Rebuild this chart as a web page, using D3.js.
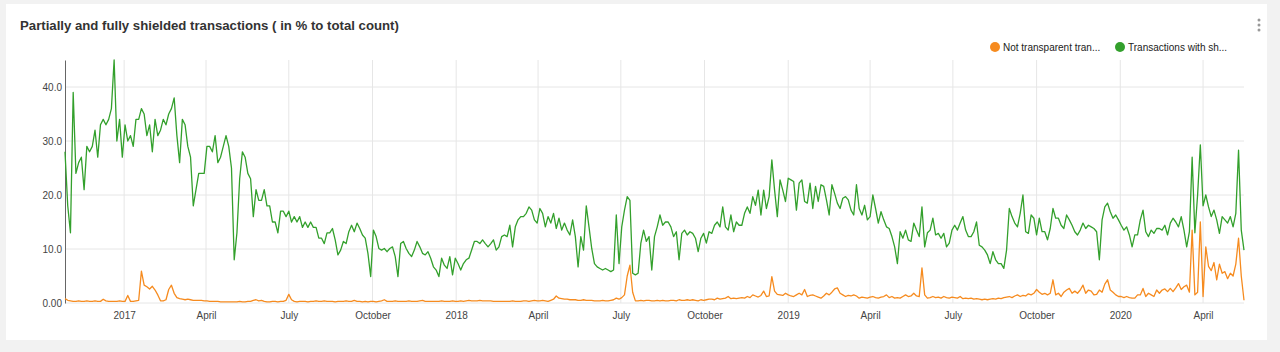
<!doctype html>
<html>
  <head>
    <meta charset="utf-8">
    <title>Shielded transactions</title>
    <script type="text/javascript" src="https://cdn.jsdelivr.net/npm/d3@7"></script>
    <style>
      body { margin: 0; background: #f2f2f2; }
      text { font-family: "Liberation Sans", Arial, sans-serif; }
    </style>
  </head>
  <body>
    <script>
      // series: one reading every 3 days from 2016-10-28
      const startDay = '2016-10-28';
      const stepDays = 3;

      // Transactions with shielded inputs or outputs (%)
      const shieldedPct = [
        28, 18, 13, 39, 24, 26, 27, 21, 29, 28,
        29, 32, 27, 33, 34, 33, 34, 36, 45, 30,
        34, 27, 33, 30, 31, 29, 34, 34, 36, 35,
        31, 33, 28, 34, 31, 32, 34, 33, 35, 36,
        38, 31, 26, 34, 33, 29, 27, 18, 21, 24,
        24, 24, 29, 29, 28, 31, 26, 27, 29, 31,
        29, 25, 8, 13, 23, 28, 27, 24, 23, 16,
        21, 19, 19, 21, 18, 18, 15, 15, 13, 17,
        17, 16, 17, 15, 16, 15, 16, 14, 15, 14,
        15, 14, 14, 12, 12, 11, 13, 13, 13.8, 11.7,
        8.9, 9.8, 11.4, 11, 13.2, 14.4, 13.2, 14.8, 13.8, 12.6,
        12, 9.2, 4.9, 13.5, 12.3, 10.1, 9.8, 10.1, 9.5, 10.1,
        10.4, 8.6, 4.9, 11, 11.4, 10.1, 9.2, 8.6, 9.8, 11.4,
        10.4, 9.2, 8.9, 9.5, 8.3, 6.7, 6.1, 4.9, 8.3, 7,
        6.4, 8.6, 5.2, 8.3, 7.3, 6.1, 7.3, 8, 8.3, 9.8,
        11.4, 11.4, 11, 11.7, 11, 10.4, 11, 11.7, 9.8, 10.4,
        12.3, 12.6, 12.3, 14.4, 10.4, 14.1, 15.4, 16, 16, 16.6,
        17.8, 17.2, 15.4, 14.8, 17.5, 16.6, 14.1, 16, 14.8, 16.6,
        13.8, 15.7, 13.5, 14.8, 13.5, 12.6, 15.4, 12.3, 6.7, 12.3,
        9.8, 18, 14.1, 10.1, 7.3, 6.7, 6.4, 6.1, 6.4, 6.1,
        5.8, 6.1, 16.3, 7.3, 14.1, 17.2, 19.7, 19, 5.5, 5.2,
        5.5, 11.1, 13.5, 11.4, 12.3, 6.1, 12.3, 14.1, 16.3, 14.4,
        15, 15, 14.1, 12.3, 13.2, 8, 12.9, 13.5, 12.6, 13.2,
        12.9, 12, 9.5, 12, 12.9, 11.1, 13.2, 12.9, 14.4, 15,
        14.1, 17.8, 14.1, 13.5, 16.3, 13.2, 15, 14.4, 14.4, 16.6,
        17.8, 16.6, 19.7, 18.1, 20.9, 16.3, 20.9, 17.5, 19.7, 26.5,
        20.9, 16, 22.8, 20.9, 18.8, 23.1, 22.8, 22.5, 17.2, 22.2,
        22.8, 18.8, 18.5, 22.2, 17.5, 21.6, 18.8, 21.9, 21.6, 19.1,
        16.3, 21.9, 20.3, 18.5, 17.5, 19.4, 19.7, 19.1, 17.2, 16.3,
        21.9, 17.5, 16.3, 18.1, 15.4, 16, 20, 17.5, 14.8, 16.9,
        15.4, 14.1, 13.8, 12.3, 10.4, 7.3, 13.2, 12, 13.5, 11.7,
        11.4, 14.8, 13.5, 12.3, 17.8, 10.4, 13, 13.5, 15.7, 12.6,
        12.9, 12, 12.9, 10.4, 11.1, 13.5, 14.4, 13.5, 14.8, 16,
        13.5, 12.3, 12.3, 13.2, 15, 10.7, 10.4, 9.8, 8.9, 7.3,
        9.5, 8, 7.3, 7.3, 6.4, 9.8, 17.5, 16, 14.8, 14.1,
        16.6, 20, 13.2, 12.9, 16.3, 15.7, 12.6, 15.7, 13.2, 13.2,
        11.7, 13.8, 17.5, 15.7, 15.7, 14.4, 13.8, 16.3, 15.4, 14.4,
        13.2, 12.6, 13.5, 14.8, 13.8, 14.4, 14.1, 13.8, 13.2, 8,
        15.4, 17.8, 18.5, 16.9, 15.7, 16.3, 15.4, 14.4, 13.5, 14.1,
        12.6, 10.4, 12.6, 12.6, 15.4, 17.2, 13.2, 12.3, 13.5, 12.9,
        13.8, 13.8, 13.5, 14.4, 12.6, 14.8, 15.7, 15, 14.1, 16,
        13.5, 10.4, 13.2, 27, 13, 20, 29.3, 18, 20, 17.8,
        16, 17.2, 15.4, 12.9, 16, 15.4, 14.8, 16, 14.1, 16.6,
        28.3, 13.5, 9.8
      ];

      // Not transparent transactions (%)
      const notTransparentPct = [
        0.8, 0.5, 0.4, 0.3, 0.3, 0.4, 0.3, 0.3, 0.4, 0.3,
        0.3, 0.4, 0.3, 0.3, 0.7, 0.4, 0.3, 0.3, 0.3, 0.3,
        0.4, 0.3, 0.3, 1.4, 0.3, 0.3, 0.4, 0.5, 5.9, 3.3,
        3.0, 2.6, 3.1, 2.4, 1.5, 0.4, 0.4, 0.6, 2.5, 3.3,
        1.8, 1.0, 0.8, 0.7, 0.6, 0.7, 0.6, 0.5, 0.5, 0.5,
        0.5, 0.4, 0.4, 0.3, 0.3, 0.3, 0.3, 0.2, 0.2, 0.2,
        0.2, 0.2, 0.2, 0.2, 0.3, 0.2, 0.2, 0.3, 0.3, 0.5,
        0.6, 0.4, 0.5, 0.3, 0.2, 0.2, 0.3, 0.3, 0.2, 0.3,
        0.3, 0.5, 1.6, 0.6, 0.3, 0.2, 0.3, 0.3, 0.3, 0.2,
        0.3, 0.3, 0.4, 0.3, 0.3, 0.4, 0.3, 0.3, 0.3, 0.2,
        0.3, 0.3, 0.3, 0.4, 0.3, 0.3, 0.5, 0.3, 0.3, 0.2,
        0.3, 0.2, 0.3, 0.3, 0.2, 0.3, 0.4, 0.6, 0.3, 0.3,
        0.3, 0.4, 0.3, 0.3, 0.3, 0.3, 0.4, 0.3, 0.3, 0.3,
        0.4, 0.5, 0.3, 0.3, 0.3, 0.3, 0.3, 0.3, 0.4, 0.3,
        0.3, 0.3, 0.4, 0.3, 0.3, 0.4, 0.3, 0.4, 0.5, 0.4,
        0.4, 0.4, 0.5, 0.4, 0.4, 0.4, 0.4, 0.3, 0.3, 0.3,
        0.3, 0.3, 0.3, 0.3, 0.4, 0.3, 0.3, 0.3, 0.4, 0.4,
        0.3, 0.4, 0.5, 0.4, 0.4, 0.5, 0.4, 0.3, 0.5, 0.7,
        1.3, 0.9, 0.8, 0.7, 0.7, 0.6, 0.6, 0.6, 0.5, 0.5,
        0.6, 0.5, 0.5, 0.5, 0.4, 0.4, 0.4, 0.5, 0.4, 0.4,
        0.5, 0.6, 0.9, 0.7, 1.0, 1.5, 5.0, 7.0, 2.0, 0.4,
        0.4, 0.5, 0.4, 0.5, 0.5, 0.4, 0.4, 0.5, 0.4, 0.5,
        0.4, 0.4, 0.5, 0.5, 0.4, 0.6, 0.5, 0.5, 0.6, 0.5,
        0.6, 0.5, 0.4, 0.6, 0.5, 0.6, 0.7, 0.7, 0.6, 0.9,
        0.7, 0.8, 0.9, 1.2, 0.8, 0.9, 0.8, 0.9, 1.0, 0.9,
        1.2, 1.0, 1.5, 1.3, 1.1, 1.4, 2.2, 1.2, 1.3, 4.9,
        2.2, 1.6, 1.5, 1.4, 1.8, 1.5, 1.3, 1.2, 1.5, 1.8,
        1.5, 2.5, 1.2, 1.4, 1.5, 1.3, 1.1, 0.9, 1.3, 1.8,
        1.5, 2.0, 2.6, 2.8, 1.8, 1.5, 1.2, 1.4, 1.3, 1.5,
        1.3, 0.9, 1.1, 1.0, 0.9, 1.1, 1.2, 1.0, 0.9, 1.1,
        1.2, 1.5, 1.0, 1.2, 0.9, 1.0, 0.9, 1.2, 1.5, 1.2,
        1.3, 1.8, 1.3, 1.2, 6.5, 1.5, 0.9, 1.0, 1.2, 1.0,
        1.1, 0.9, 1.2, 1.0, 0.9, 1.1, 1.0, 0.9, 1.2, 0.8,
        0.9, 0.8, 0.9, 0.7, 0.8, 0.7, 0.6, 0.7, 0.6, 0.7,
        0.8, 0.7, 0.9, 0.8, 1.0, 1.1, 1.2, 1.0, 1.3, 1.5,
        1.2, 1.4, 1.3, 1.7, 1.5, 1.8, 2.5, 2.0, 1.6, 1.8,
        1.5, 1.8, 4.3, 1.5, 1.8, 1.2, 2.0, 2.4, 2.7, 1.8,
        2.2, 1.8, 2.4, 3.3, 1.8, 2.4, 2.2, 1.5, 1.6, 2.4,
        2.0, 3.5, 4.3, 2.4, 2.0, 1.5, 1.2, 1.2, 1.0, 1.2,
        1.0, 0.9, 0.9, 1.5, 1.5, 2.7, 1.2, 1.8, 1.5, 1.2,
        2.4, 1.8, 2.4, 2.6, 2.1, 2.7, 2.1, 2.8, 3.6, 2.5,
        3.0, 3.3, 2.0, 13.5, 1.5, 2.0, 15, 1.2, 10.4, 6.8,
        6.0, 7.5, 4.3, 7.2, 5.5, 5.8, 4.5, 5.5, 5.0, 7.2,
        12, 5.0, 0.5
      ];

      const seriesNames = ['Not transparent tran...', 'Transactions with sh...'];
      const seriesColors = ['#f68b1f', '#33a02c'];

      const xTickDates = ['2017-01-01', '2017-04-01', '2017-07-01', '2017-10-01',
        '2018-01-01', '2018-04-01', '2018-07-01', '2018-10-01',
        '2019-01-01', '2019-04-01', '2019-07-01', '2019-10-01',
        '2020-01-01', '2020-04-01'];
      const xTickLabels = ['2017', 'April', 'July', 'October',
        '2018', 'April', 'July', 'October',
        '2019', 'April', 'July', 'October',
        '2020', 'April'];
      const yTicks = [0, 10, 20, 30, 40];
      const yTickLabels = ['0.00', '10.0', '20.0', '30.0', '40.0'];

      const parse = d3.utcParse('%Y-%m-%d');
      const start = parse(startDay);
      const dates = shieldedPct.map((v, i) => d3.utcDay.offset(start, i * stepDays));

      const svgWidth = 1280;
      const svgHeight = 352;
      const plot = { left: 65, right: 1244, top: 60, bottom: 303 };

      const svg = d3.select('body').append('svg')
          .attr('width', svgWidth)
          .attr('height', svgHeight);

      // card
      svg.append('rect')
          .attr('x', 6)
          .attr('y', 4)
          .attr('width', 1261)
          .attr('height', 336)
          .attr('fill', '#fff');

      // title
      svg.append('text')
          .attr('x', 20)
          .attr('y', 30)
          .attr('font-size', 13.2)
          .attr('font-weight', 'bold')
          .attr('fill', '#333')
          .text('Partially and fully shielded transactions ( in % to total count)');

      // menu dots
      svg.append('g')
          .selectAll('circle')
          .data([20, 25, 30])
          .enter().append('circle')
            .attr('cx', 1259)
            .attr('cy', d => d)
            .attr('r', 1.5)
            .attr('fill', '#999');

      // scales
      const x = d3.scaleUtc()
          .domain([start, dates[dates.length - 1]])
          .range([plot.left, plot.right]);

      const y = d3.scaleLinear()
          .domain([0, 45])
          .range([plot.bottom, plot.top]);

      const tickDates = xTickDates.map(parse);

      // grid
      const grid = svg.append('g');
      grid.selectAll('.hgrid')
        .data(yTicks)
        .enter().append('line')
          .attr('x1', plot.left)
          .attr('x2', plot.right)
          .attr('y1', d => y(d))
          .attr('y2', d => y(d))
          .attr('stroke', '#e6e6e6');
      grid.selectAll('.vgrid')
        .data(tickDates)
        .enter().append('line')
          .attr('x1', d => x(d))
          .attr('x2', d => x(d))
          .attr('y1', plot.top)
          .attr('y2', plot.bottom)
          .attr('stroke', '#e6e6e6');

      // axes
      const xAxis = svg.append('g')
          .attr('transform', `translate(0,${plot.bottom})`)
          .call(d3.axisBottom(x)
            .tickValues(tickDates)
            .tickFormat((d, i) => xTickLabels[i])
            .tickSize(0)
            .tickPadding(9));
      xAxis.select('.domain').remove();
      xAxis.selectAll('text')
          .attr('font-family', '"Liberation Sans", Arial, sans-serif')
          .attr('font-size', 10)
          .attr('fill', '#444');

      const yAxis = svg.append('g')
          .attr('transform', `translate(${plot.left},0)`)
          .call(d3.axisLeft(y)
            .tickValues(yTicks)
            .tickFormat((d, i) => yTickLabels[i])
            .tickSize(0)
            .tickPadding(3));
      yAxis.select('.domain')
          .attr('stroke', '#666');
      yAxis.selectAll('text')
          .attr('font-family', '"Liberation Sans", Arial, sans-serif')
          .attr('font-size', 10)
          .attr('fill', '#444');

      // lines
      const line = d3.line()
          .x((d, i) => x(dates[i]))
          .y(d => y(d));

      [notTransparentPct, shieldedPct].forEach((values, k) => {
        svg.append('path')
            .datum(values)
            .attr('d', line)
            .attr('fill', 'none')
            .attr('stroke', seriesColors[k])
            .attr('stroke-width', 1.3)
            .attr('stroke-linejoin', 'round');
      });

      // legend
      const legendX = [995, 1120];
      const legend = svg.append('g')
        .selectAll('g')
        .data(seriesNames)
        .enter().append('g')
          .attr('transform', (d, i) => `translate(${legendX[i]},47)`);
      legend.append('circle')
          .attr('r', 5)
          .attr('fill', (d, i) => seriesColors[i]);
      legend.append('text')
          .attr('x', 8)
          .attr('dy', '0.35em')
          .attr('font-size', 10)
          .attr('fill', '#222')
          .text(d => d);
    </script>
  </body>
</html>
